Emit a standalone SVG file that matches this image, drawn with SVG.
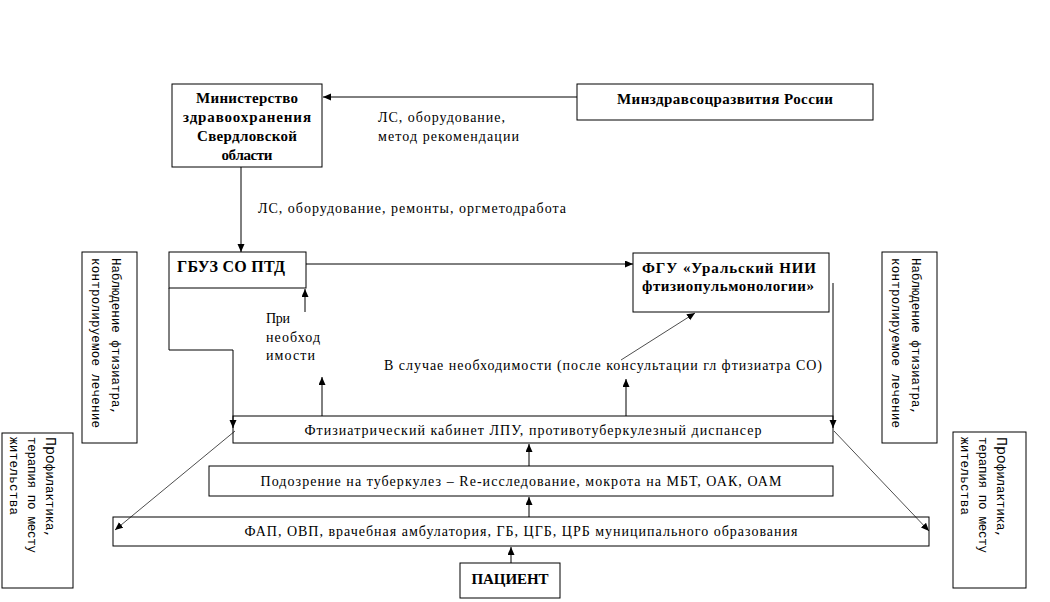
<svg xmlns="http://www.w3.org/2000/svg" width="1050" height="602" viewBox="0 0 1050 602" font-family="'Liberation Serif', serif">
<style>
.box{fill:#fff;stroke:#000;stroke-width:1}
.t{font-size:14px;fill:#000}
.b{font-size:15px;font-weight:bold;fill:#000}
.m{font-size:12.5px;fill:#000}
.c{fill:none;stroke:#000;stroke-width:1}
.d{fill:none;stroke:#000;stroke-width:0.7}
</style>
<defs>
<marker id="ah" markerWidth="8" markerHeight="8" refX="8" refY="3.5" orient="auto" markerUnits="userSpaceOnUse">
<path d="M0,0 L8,3.5 L0,7 z" fill="#000"/>
</marker>
</defs>
<rect width="1050" height="602" fill="#fff"/>

<g id="n-ministry">
<rect class="box" x="172" y="84" width="150" height="83"/>
<text class="b" font-family="'Liberation Serif', serif" x="247" y="103" text-anchor="middle" textLength="102">Министерство</text>
<text class="b" font-family="'Liberation Serif', serif" x="247" y="122" text-anchor="middle" textLength="128">здравоохранения</text>
<text class="b" font-family="'Liberation Serif', serif" x="247" y="141" text-anchor="middle" textLength="100">Свердловской</text>
<text class="b" font-family="'Liberation Serif', serif" x="247" y="160" text-anchor="middle" textLength="51">области</text>
</g>

<g id="n-minzdrav">
<rect class="box" x="577" y="84" width="296" height="36"/>
<text class="b" font-family="'Liberation Serif', serif" x="725" y="104" text-anchor="middle" textLength="216">Минздравсоцразвития России</text>
</g>

<g id="n-gbuz">
<rect class="box" x="169" y="252" width="137" height="36"/>
<text class="b" font-family="'Liberation Serif', serif" x="177" y="272" font-size="16" style="font-size:16px" textLength="108">ГБУЗ СО ПТД</text>
</g>

<g id="n-fgu">
<rect class="box" x="633" y="253" width="196" height="59"/>
<text class="b" font-family="'Liberation Serif', serif" x="642" y="273" textLength="174">ФГУ «Уральский НИИ</text>
<text class="b" font-family="'Liberation Serif', serif" x="642" y="291" textLength="172">фтизиопульмонологии»</text>
</g>

<g id="n-ftiz">
<rect class="box" x="233" y="416" width="600" height="27"/>
<text class="t" font-family="'Liberation Serif', serif" x="533" y="435" text-anchor="middle" textLength="457">Фтизиатрический кабинет ЛПУ, противотуберкулезный диспансер</text>
</g>

<g id="n-podozr">
<rect class="box" x="209" y="466" width="624" height="30"/>
<text class="t" font-family="'Liberation Serif', serif" x="521" y="486" text-anchor="middle" textLength="521">Подозрение на туберкулез – Re-исследование, мокрота на МБТ, ОАК, ОАМ</text>
</g>

<g id="n-fap">
<rect class="box" x="113" y="517" width="816" height="29"/>
<text class="t" font-family="'Liberation Serif', serif" x="521" y="536" text-anchor="middle" textLength="553">ФАП, ОВП, врачебная амбулатория, ГБ, ЦГБ, ЦРБ муниципального образования</text>
</g>

<g id="n-patient">
<rect class="box" x="460" y="563" width="100" height="35"/>
<text class="b" font-family="'Liberation Serif', serif" x="510" y="584" text-anchor="middle" textLength="77">ПАЦИЕНТ</text>
</g>

<g id="n-nabl-left">
<rect class="box" x="82" y="252" width="55" height="191"/>
<text class="m" font-family="'Liberation Mono', monospace" transform="translate(112,258) rotate(90)" textLength="157">Наблюдение фтизиатра,</text>
<text class="m" font-family="'Liberation Mono', monospace" transform="translate(92,258) rotate(90)" textLength="170">контролируемое лечение</text>
</g>

<g id="n-nabl-right">
<rect class="box" x="882" y="252" width="55" height="191"/>
<text class="m" font-family="'Liberation Mono', monospace" transform="translate(912,258) rotate(90)" textLength="157">Наблюдение фтизиатра,</text>
<text class="m" font-family="'Liberation Mono', monospace" transform="translate(892,258) rotate(90)" textLength="170">контролируемое лечение</text>
</g>

<g id="n-prof-left">
<rect class="box" x="2" y="433" width="71" height="155"/>
<text class="m" font-family="'Liberation Mono', monospace" transform="translate(46,437) rotate(90)" textLength="101"><tspan font-size="15">Про</tspan>филактика,</text>
<text class="m" font-family="'Liberation Mono', monospace" transform="translate(28,437) rotate(90)" textLength="116">терапия по месту</text>
<text class="m" font-family="'Liberation Mono', monospace" transform="translate(10,437) rotate(90)" textLength="78">жительства</text>
</g>

<g id="n-prof-right">
<rect class="box" x="953" y="432" width="73" height="156"/>
<text class="m" font-family="'Liberation Mono', monospace" transform="translate(997,437) rotate(90)" textLength="101"><tspan font-size="15">Про</tspan>филактика,</text>
<text class="m" font-family="'Liberation Mono', monospace" transform="translate(979,437) rotate(90)" textLength="116">терапия по месту</text>
<text class="m" font-family="'Liberation Mono', monospace" transform="translate(961,437) rotate(90)" textLength="78">жительства</text>
</g>

<g id="labels">
<text class="t" font-family="'Liberation Serif', serif" x="378" y="122" textLength="127">ЛС, оборудование,</text>
<text class="t" font-family="'Liberation Serif', serif" x="378" y="141" textLength="141">метод рекомендации</text>
<text class="t" font-family="'Liberation Serif', serif" x="258" y="213" textLength="308">ЛС, оборудование, ремонты, оргметодработа</text>
<text class="t" font-family="'Liberation Serif', serif" x="266" y="323" textLength="24">При</text>
<text class="t" font-family="'Liberation Serif', serif" x="266" y="342" textLength="54">необход</text>
<text class="t" font-family="'Liberation Serif', serif" x="266" y="360" textLength="49">имости</text>
<text class="t" font-family="'Liberation Serif', serif" x="384" y="370" textLength="438">В случае необходимости (после консультации гл фтизиатра СО)</text>
</g>

<g id="connectors">
<path class="c" d="M577,97 H323" marker-end="url(#ah)"/>
<path class="c" d="M241,167 V252" marker-end="url(#ah)"/>
<path class="c" d="M306,264 H633" marker-end="url(#ah)"/>
<path class="c" d="M169,288 V350 H233 V428" marker-end="url(#ah)"/>
<path class="c" d="M833,283 V428" marker-end="url(#ah)"/>
<path class="d" d="M235,431 L115,530" marker-end="url(#ah)"/>
<path class="d" d="M834,431 L929,531" marker-end="url(#ah)"/>
<path class="c" d="M322,416 V377" marker-end="url(#ah)"/>
<path class="c" d="M305,312 V289" marker-end="url(#ah)"/>
<path class="c" d="M626,416 V379" marker-end="url(#ah)"/>
<path class="d" d="M621,360 L695,313" marker-end="url(#ah)"/>
<path class="c" d="M529,466 V444" marker-end="url(#ah)"/>
<path class="c" d="M529,517 V497" marker-end="url(#ah)"/>
<path class="c" d="M511,563 V547" marker-end="url(#ah)"/>
</g>
</svg>
